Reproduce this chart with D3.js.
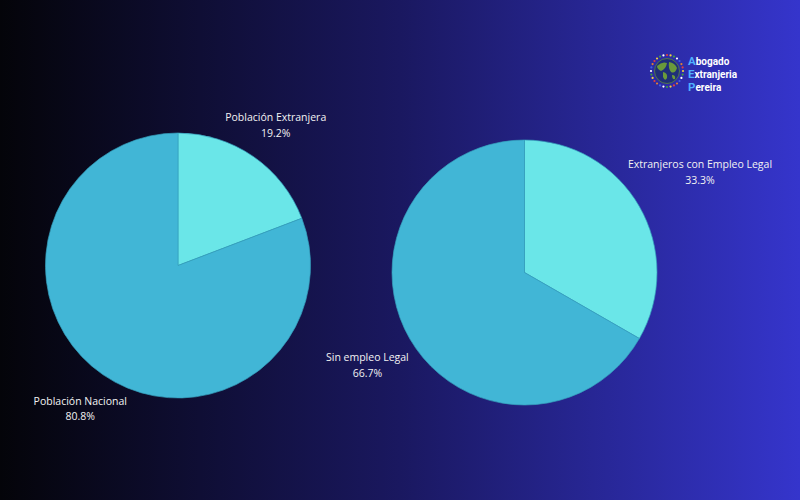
<!DOCTYPE html>
<html>
<head>
<meta charset="utf-8">
<script src="https://cdn.jsdelivr.net/npm/d3@7"></script>
<style>
  body { margin: 0; background: #000; }
  svg { display: block; font-family: "Open Sans", "Noto Sans", sans-serif; }
</style>
</head>
<body>
<div id="chart"></div>
<script>

// two pies: share of foreign population, and share of them with legal employment
var popLabels = ["Población Extranjera", "Población Nacional"];
var popValues = [19.2, 80.8];

var empLabels = ["Extranjeros con Empleo Legal", "Sin empleo Legal"];
var empValues = [33.3, 66.7];

var sliceColors = ["#6ae6e8", "#41b6d6"];

var width = 800,
    height = 500;

var svg = d3.select("#chart")
  .append("svg")
  .attr("width", width)
  .attr("height", height);

var defs = svg.append("defs");
var grad = defs.append("linearGradient")
  .attr("id", "bg")
  .attr("x1", "0%").attr("x2", "100%")
  .attr("y1", "0%").attr("y2", "0%");
grad.append("stop").attr("offset", "0%").attr("stop-color", "#040409");
grad.append("stop").attr("offset", "50%").attr("stop-color", "#1a1860");
grad.append("stop").attr("offset", "100%").attr("stop-color", "#3535cc");

svg.append("rect")
  .attr("width", width)
  .attr("height", height)
  .attr("fill", "url(#bg)");

var radius = 132.5;

// label distance from centre, as a multiple of the radius (per slice)
var charts = [
  { labels: popLabels, values: popValues, cx: 178, cy: 265.5, labelK: [1.3, 1.3] },
  { labels: empLabels, values: empValues, cx: 524.5, cy: 272.5, labelK: [1.53, 1.37] }
];

var pie = d3.pie().sort(null).value(function (d) { return d; });
var arc = d3.arc().innerRadius(0).outerRadius(radius);

charts.forEach(function (c) {
  var g = svg.append("g")
    .attr("transform", "translate(" + c.cx + "," + c.cy + ")");

  var arcs = pie(c.values);

  g.selectAll(".slice")
    .data(arcs).enter()
    .append("path")
    .attr("class", "slice")
    .attr("d", arc)
    .attr("fill", function (d, i) { return sliceColors[i]; })
    .attr("stroke", "#35a0bd")
    .attr("stroke-width", 0.7);

  var lbl = g.selectAll(".lbl")
    .data(arcs).enter()
    .append("text")
    .attr("class", "lbl")
    .attr("transform", function (d, i) {
      var r = radius * c.labelK[i];
      var a = (d.startAngle + d.endAngle) / 2;
      return "translate(" + (Math.sin(a) * r) + "," + (-Math.cos(a) * r) + ")";
    })
    .attr("text-anchor", "middle")
    .attr("fill", "#f2f2f2")
    .style("font-size", "10.5px");

  lbl.append("tspan")
    .attr("x", 0)
    .attr("dy", "-0.25em")
    .text(function (d, i) { return c.labels[i]; });

  lbl.append("tspan")
    .attr("x", 0)
    .attr("dy", "1.5em")
    .text(function (d) { return d.value.toFixed(1) + "%"; });
});

// logo, top right
var logo = svg.append("g").attr("transform", "translate(667,71)");
var flagCols = ["#e04040", "#f0d040", "#40a040", "#ffffff", "#4060e0", "#e08030"];
d3.range(28).forEach(function (i) {
  var a = i / 28 * 2 * Math.PI;
  logo.append("circle")
    .attr("cx", Math.sin(a) * 16)
    .attr("cy", -Math.cos(a) * 16)
    .attr("r", 1.1)
    .attr("fill", flagCols[i % flagCols.length]);
});
logo.append("circle").attr("r", 12.5).attr("fill", "#1f2e78")
  .attr("stroke", "#5a8a3a").attr("stroke-width", 0.8);
logo.append("path")
  .attr("d", "M-10,-5 Q-5,-10 0,-8 Q-1,-2 -6,0 Q-10,-2 -10,-5 Z M-4,1 Q1,2 0,7 Q-2,11 -4,6 Z M2,-9 Q8,-8 10,-3 Q8,3 4,1 Q1,-3 2,-9 Z M5,4 Q9,4 8,8 Q5,9 5,4 Z")
  .attr("fill", "#6a9a3a");

var logoText = svg.append("g")
  .attr("transform", "translate(688,0)")
  .style("font-family", "Roboto, 'Open Sans', sans-serif")
  .style("font-size", "10px")
  .style("font-weight", "bold")
  .attr("fill", "#ffffff");

[["A", "bogado", 65], ["E", "xtranjeria", 78], ["P", "ereira", 91]].forEach(function (t) {
  var tx = logoText.append("text").attr("y", t[2]);
  tx.append("tspan").attr("fill", "#4fb0ff").style("font-size", "11.5px").text(t[0]);
  tx.append("tspan").text(t[1]);
});

</script>
</body>
</html>
